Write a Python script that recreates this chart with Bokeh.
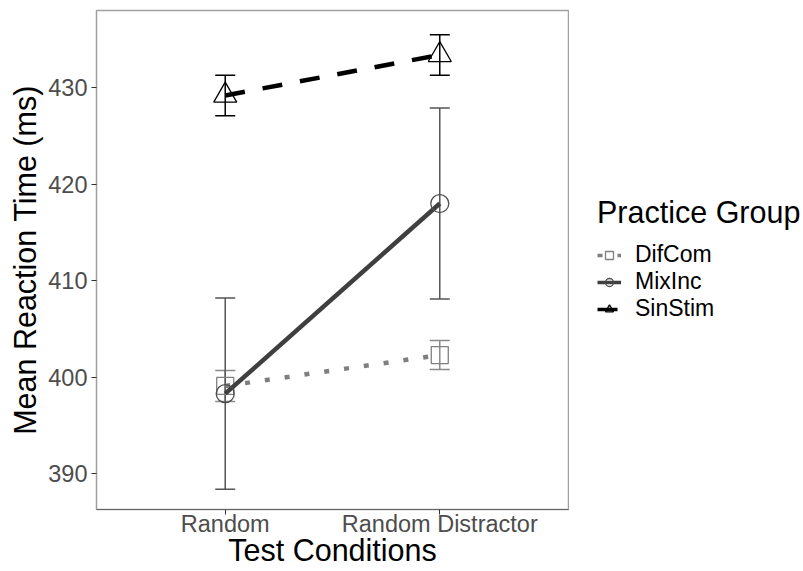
from bokeh.plotting import figure
from bokeh.layouts import row
from bokeh.models import (Range1d, FixedTicker, ColumnDataSource, Whisker, TeeHead,
                          Legend, LegendItem)
from bokeh.embed import file_html
from bokeh.resources import INLINE

# Mean reaction time (ms) and standard error per practice group and test condition
conditions = ["Random", "Random Distractor"]
condition_pos = [1, 2]
groups = ["DifCom", "MixInc", "SinStim"]
difcom_mean = [399.1, 402.3]
difcom_se = [1.6, 1.5]
mixinc_mean = [398.3, 418.0]
mixinc_se = [9.9, 9.9]
sinstim_mean = [429.2, 433.4]
sinstim_se = [2.1, 2.1]
y_ticks = [390, 400, 410, 420, 430]

FONT = "Liberation Sans"

p = figure(width=569, height=571, output_backend="svg", toolbar_location=None,
           x_range=Range1d(0.4, 2.6), y_range=Range1d(386.3, 438.0),
           min_border_left=96, min_border_right=1, min_border_top=10,
           min_border_bottom=62)
p.xgrid.visible = False
p.ygrid.visible = False
p.outline_line_color = "#a0a0a0"
p.outline_line_width = 1.5
p.background_fill_color = "white"
p.border_fill_color = "white"

styles = {
    "DifCom": dict(mean=difcom_mean, se=difcom_se, color="#808080", line_color="#7f7f7f",
                   dash="5 15", lw=4.5, marker="square", size=17, err="#8a8a8a"),
    "MixInc": dict(mean=mixinc_mean, se=mixinc_se, color="#4d4d4d", line_color="#3f3f3f",
                   dash="solid", lw=4.5, marker="circle", size=18, err="#555555"),
    "SinStim": dict(mean=sinstim_mean, se=sinstim_se, color="#000000", line_color="#000000",
                    dash="20 18", lw=4.5, marker="triangle", size=23, err="#000000"),
}

sources = {}
for g in groups:
    s = styles[g]
    src = ColumnDataSource(dict(
        x=condition_pos, y=s["mean"],
        lower=[m - e for m, e in zip(s["mean"], s["se"])],
        upper=[m + e for m, e in zip(s["mean"], s["se"])],
    ))
    sources[g] = src
    w = Whisker(source=src, base="x", lower="lower", upper="upper", dimension="height",
                line_color=s["err"], line_width=1.5,
                upper_head=TeeHead(size=20, line_color=s["err"], line_width=1.5),
                lower_head=TeeHead(size=20, line_color=s["err"], line_width=1.5))
    p.add_layout(w)

for g in groups:
    s = styles[g]
    src = sources[g]
    p.line("x", "y", source=src, line_color=s["line_color"], line_width=s["lw"],
           line_dash=s["dash"], line_cap="butt")
    p.scatter("x", "y", source=src, marker=s["marker"], size=s["size"],
              fill_color=None, line_color=s["color"], line_width=1.3)

# axes
p.xaxis.ticker = FixedTicker(ticks=condition_pos)
p.xaxis.major_label_overrides = {pos: c for pos, c in zip(condition_pos, conditions)}
p.yaxis.ticker = FixedTicker(ticks=y_ticks)
for ax in (p.xaxis, p.yaxis):
    ax.minor_tick_line_color = None
    ax.major_tick_line_color = "#333333"
    ax.major_tick_out = 5
    ax.major_tick_in = 0
    ax.major_label_text_font = FONT
    ax.major_label_text_font_size = "23.5px"
    ax.major_label_text_color = "#4d4d4d"
    ax.axis_label_text_font = FONT
    ax.axis_label_text_font_size = "30.5px"
    ax.axis_label_text_font_style = "normal"
    ax.axis_label_text_color = "#000000"
p.xaxis.axis_line_color = "#666666"
p.yaxis.axis_line_color = None
p.xaxis.axis_label = "Test Conditions"
p.yaxis.axis_label = "Mean Reaction Time (ms)"
p.xaxis.major_label_standoff = -4
p.xaxis.axis_label_standoff = -7
p.yaxis.major_label_standoff = 4
p.yaxis.axis_label_standoff = 3

# legend panel: key glyphs share the data and styles of the series above;
# the data lie outside this panel's unit ranges, so only the legend keys show
lg = figure(width=234, height=571, output_backend="svg", toolbar_location=None,
            x_range=Range1d(0, 0.5), y_range=Range1d(0, 1),
            x_axis_location=None, y_axis_location=None, min_border=0)
lg.xgrid.visible = False
lg.ygrid.visible = False
lg.outline_line_color = None
items = []
for g in groups:
    s = styles[g]
    ln = lg.line("x", "y", source=sources[g], line_color=s["line_color"],
                 line_width=s["lw"] - 1, line_dash=s["dash"], line_cap="butt")
    sc = lg.scatter("x", "y", source=sources[g], marker=s["marker"], size=s["size"],
                    fill_color=None, line_color=s["color"], line_width=1.3)
    items.append(LegendItem(label=g, renderers=[ln, sc]))

legend = Legend(items=items, location=(28, 187), title="Practice Group",
                title_text_font=FONT, title_text_font_size="30.5px",
                title_text_font_style="normal",
                title_text_color="#000000", title_standoff=11,
                label_text_font=FONT, label_text_font_size="23px",
                label_text_color="#000000", label_standoff=14,
                glyph_width=24, glyph_height=20, label_height=20, spacing=-3,
                padding=0, margin=0, border_line_color=None,
                background_fill_alpha=0)
lg.add_layout(legend, "center")

open("out.html", "w").write(file_html(row(p, lg), INLINE))
